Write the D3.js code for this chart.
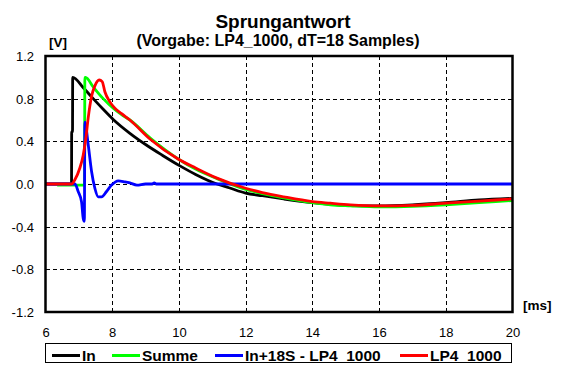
<!DOCTYPE html>
<html>
<head>
<meta charset="utf-8">
<script src="https://cdn.jsdelivr.net/npm/d3@7/dist/d3.min.js"></script>
<style>
  body { margin: 0; background: #fff; }
  svg { display: block; font-family: "Liberation Sans", Arial, sans-serif; }
</style>
</head>
<body>
<svg id="chart" width="569" height="377"></svg>
<script>
// tick labels
const xTicks = [6, 8, 10, 12, 14, 16, 18, 20];
const yTicks = [-1.2, -0.8, -0.4, 0.0, 0.4, 0.8, 1.2];

// series names (legend order = drawing order)
const seriesNames = ['In', 'Summe', 'In+18S - LP4_1000', 'LP4_1000'];
const seriesColors = ['#000000', '#00ff00', '#0000ff', '#ff0000'];

// In (black)
const tIn = [6, 6.78, 6.785, 6.81, 6.815, 7.14, 7.43, 7.73, 8.03, 8.53, 9.0, 9.5, 10.03, 10.5, 11.14, 11.5, 12, 12.5, 13.14, 14, 15, 16, 17, 18, 19, 20];
const vIn = [0, 0, 0.49, 0.49, 1.0, 0.9, 0.8, 0.7, 0.605, 0.475, 0.37, 0.27, 0.17, 0.09, 0.0, -0.035, -0.085, -0.11, -0.14, -0.175, -0.2, -0.205, -0.195, -0.175, -0.15, -0.135];

// Summe (green)
const tSum = [6.35, 7.17, 7.18, 7.2, 7.43, 7.73, 8.03, 8.28, 8.53, 9.14, 10, 10.5, 11.14, 12, 12.5, 13.14, 14, 14.54, 15.14, 16, 17, 18, 19, 20];
const vSum = [-0.01, -0.01, 1.0, 1.0, 0.91, 0.8, 0.71, 0.65, 0.6, 0.43, 0.23, 0.14, 0.05, -0.05, -0.09, -0.13, -0.175, -0.195, -0.205, -0.215, -0.21, -0.195, -0.175, -0.155];

// In+18S - LP4_1000 (blue)
const tDiff = [6, 6.88, 6.98, 7.08, 7.13, 7.165, 7.18, 7.28, 7.38, 7.48, 7.58, 7.68, 7.83, 7.98, 8.18, 8.38, 8.53, 8.74, 9.0, 9.2, 9.26, 9.32, 10, 20];
const vDiff = [0, 0, -0.07, -0.166, -0.32, -0.35, 0.58, 0.37, 0.12, -0.04, -0.12, -0.12, -0.07, -0.01, 0.03, 0.02, 0.01, -0.01, 0, 0, 0.01, 0, 0, 0];

// LP4_1000 (red)
const tLp = [6, 6.785, 6.88, 7.03, 7.13, 7.21, 7.28, 7.38, 7.48, 7.61, 7.7, 7.78, 7.93, 8.08, 8.28, 8.53, 9.14, 10, 10.5, 11.14, 12, 12.5, 13.14, 14, 14.54, 15.14, 16, 17, 18, 19, 20];
const vLp = [0, 0, 0.04, 0.15, 0.27, 0.43, 0.62, 0.82, 0.92, 0.975, 0.96, 0.865, 0.77, 0.71, 0.66, 0.6, 0.42, 0.23, 0.15, 0.055, -0.04, -0.08, -0.12, -0.165, -0.18, -0.195, -0.205, -0.2, -0.18, -0.16, -0.14];

const seriesT = [tIn, tSum, tDiff, tLp];
const seriesV = [vIn, vSum, vDiff, vLp];

const svg = d3.select('#chart');
const plot = { left: 45.5, right: 512.5, top: 56, bottom: 312 };

const x = d3.scaleLinear().domain([6, 20]).range([plot.left, plot.right]);
const y = d3.scaleLinear().domain([-1.2, 1.2]).range([plot.bottom, plot.top]);

// titles
svg.append('text')
  .attr('x', 283).attr('y', 27.5)
  .attr('text-anchor', 'middle')
  .style('font-size', '19px').style('font-weight', 'bold')
  .text('Sprungantwort');

svg.append('text')
  .attr('x', 278).attr('y', 46)
  .attr('text-anchor', 'middle')
  .style('font-size', '16px').style('font-weight', 'bold')
  .text('(Vorgabe: LP4_1000, dT=18 Samples)');

svg.append('text')
  .attr('x', 49).attr('y', 47)
  .style('font-size', '13.5px').style('font-weight', 'bold')
  .text('[V]');

svg.append('text')
  .attr('x', 523).attr('y', 310)
  .style('font-size', '13.5px').style('font-weight', 'bold')
  .text('[ms]');

// grid
const grid = svg.append('g')
  .attr('stroke', '#000')
  .attr('stroke-width', 1)
  .attr('stroke-dasharray', '4,3')
  .attr('shape-rendering', 'crispEdges');

grid.selectAll('.gx')
  .data(xTicks.slice(1, -1))
  .enter()
  .append('line')
  .attr('x1', (d) => Math.round(x(d)) + 0.5)
  .attr('x2', (d) => Math.round(x(d)) + 0.5)
  .attr('y1', plot.top)
  .attr('y2', plot.bottom);

grid.selectAll('.gy')
  .data(yTicks.slice(1, -1))
  .enter()
  .append('line')
  .attr('y1', (d) => Math.round(y(d)) + 0.5)
  .attr('y2', (d) => Math.round(y(d)) + 0.5)
  .attr('x1', plot.left)
  .attr('x2', plot.right);

// axes (labels only)
const xAxis = d3.axisBottom(x).tickValues(xTicks).tickSize(0).tickPadding(0)
  .tickFormat(d3.format('d'));
const yAxis = d3.axisLeft(y).tickValues(yTicks).tickSize(0).tickPadding(0)
  .tickFormat(d3.format('.1f'));

const gx = svg.append('g')
  .attr('transform', `translate(0, ${plot.bottom})`)
  .call(xAxis);
gx.select('.domain').remove();
gx.selectAll('text')
  .attr('y', 24.5).attr('dy', 0)
  .attr('fill', '#000')
  .style('font-size', '13px')
  .style('font-family', '"Liberation Sans", Arial, sans-serif');

const gy = svg.append('g')
  .attr('transform', 'translate(34, 0)')
  .call(yAxis);
gy.select('.domain').remove();
gy.selectAll('text')
  .attr('x', 0).attr('dy', '0.35em')
  .attr('fill', '#000')
  .style('font-size', '13px')
  .style('font-family', '"Liberation Sans", Arial, sans-serif')
  .text((d) => (d === 0 ? '0.0' : d3.format('.1f')(d).replace('−', '-')));

// curves
const line = d3.line()
  .x((d) => x(d[0]))
  .y((d) => y(d[1]))
  .curve(d3.curveMonotoneX);

const curves = svg.append('g');
seriesNames.forEach((name, i) => {
  const pts = seriesT[i].map((t, j) => [t, seriesV[i][j]]);
  curves.append('path')
    .datum(pts)
    .attr('fill', 'none')
    .attr('stroke', seriesColors[i])
    .attr('stroke-width', 2.8)
    .attr('stroke-linejoin', 'miter')
    .attr('d', line);
});

// frame
svg.append('rect')
  .attr('x', plot.left)
  .attr('y', plot.top)
  .attr('width', plot.right - plot.left)
  .attr('height', plot.bottom - plot.top)
  .attr('fill', 'none')
  .attr('stroke', '#000')
  .attr('stroke-width', 2.5);

// legend
const legendX = [52, 112, 215, 400];
const legend = svg.append('g');
legend.append('rect')
  .attr('x', 45.5).attr('y', 343.5)
  .attr('width', 466).attr('height', 19)
  .attr('fill', '#fff')
  .attr('stroke', '#000')
  .attr('stroke-width', 1);

seriesNames.forEach((name, i) => {
  legend.append('line')
    .attr('x1', legendX[i]).attr('x2', legendX[i] + 28)
    .attr('y1', 355.5).attr('y2', 355.5)
    .attr('stroke', seriesColors[i])
    .attr('stroke-width', 3);
  legend.append('text')
    .attr('x', legendX[i] + 30).attr('y', 360.5)
    .style('font-size', '15.5px').style('font-weight', 'bold')
    .text(name);
});
</script>
</body>
</html>
